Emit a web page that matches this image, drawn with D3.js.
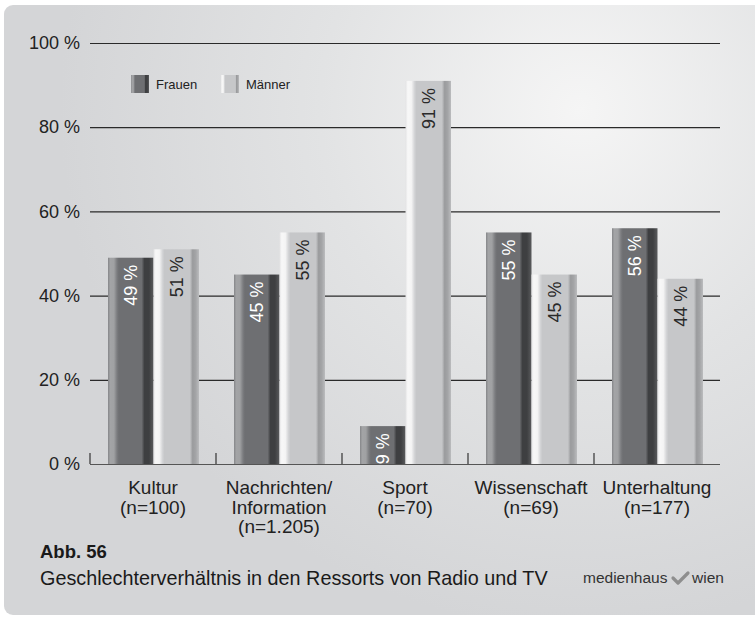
<!DOCTYPE html>
<html>
<head>
<meta charset="utf-8">
<script src="https://cdn.jsdelivr.net/npm/d3@7"></script>
<style>
  body { margin: 0; background: #fff; }
  svg { display: block; font-family: "Liberation Sans", Arial, sans-serif; }
</style>
</head>
<body>
<svg width="755" height="619"></svg>
<script>
// data
var categories = ["Kultur", "Nachrichten", "Sport", "Wissenschaft", "Unterhaltung"];
var catLabels = [
  ["Kultur", "(n=100)"],
  ["Nachrichten/", "Information", "(n=1.205)"],
  ["Sport", "(n=70)"],
  ["Wissenschaft", "(n=69)"],
  ["Unterhaltung", "(n=177)"]
];
var series = ["Frauen", "Männer"];
var frauen = [49, 45, 9, 55, 56];
var maenner = [51, 55, 91, 45, 44];
var yTicks = [0, 20, 40, 60, 80, 100];

var svg = d3.select("svg");
var defs = svg.append("defs");

var bg = defs.append("radialGradient")
    .attr("id", "bg")
    .attr("gradientUnits", "userSpaceOnUse")
    .attr("cx", 580).attr("cy", 110).attr("r", 520);
bg.append("stop").attr("offset", 0).attr("stop-color", "#f5f5f5");
bg.append("stop").attr("offset", 0.5).attr("stop-color", "#e2e3e4");
bg.append("stop").attr("offset", 1).attr("stop-color", "#d4d5d7");

function barGradient(id, stops) {
  var g = defs.append("linearGradient").attr("id", id)
      .attr("x1", 0).attr("x2", 1).attr("y1", 0).attr("y2", 0);
  stops.forEach(function(s) {
    g.append("stop").attr("offset", s[0]).attr("stop-color", s[1]);
  });
}
barGradient("gF", [[0, "#858689"], [0.05, "#a3a4a6"], [0.13, "#a0a1a3"], [0.2, "#7a7b7e"],
  [0.24, "#6e6f72"], [0.74, "#6e6f72"], [0.8, "#3e3f41"], [0.9, "#3e3f41"], [1, "#5a5b5d"]]);
barGradient("gM", [[0, "#e4e4e5"], [0.05, "#f8f8f8"], [0.13, "#f4f4f4"], [0.2, "#d2d3d5"],
  [0.24, "#c6c7c9"], [0.8, "#c6c7c9"], [0.86, "#9a9b9d"], [0.93, "#a4a5a7"], [1, "#bbbcbe"]]);
var fills = { "Frauen": "url(#gF)", "Männer": "url(#gM)" };

// panel
svg.append("rect")
    .attr("x", 4).attr("y", 5)
    .attr("width", 770).attr("height", 610)
    .attr("rx", 9)
    .attr("fill", "url(#bg)");

var x = d3.scaleBand().domain(categories).range([90, 720]);
var x1 = d3.scaleBand().domain(series).range([18, x.bandwidth() - 17]);
var y = d3.scaleLinear().domain([0, 100]).range([464, 43]);

// y axis with gridlines
var yAxis = svg.append("g")
    .attr("transform", "translate(90,0)")
    .call(d3.axisLeft(y)
      .tickValues(yTicks)
      .tickSize(-630)
      .tickPadding(10)
      .tickFormat(function(d) { return d + " %"; }));
yAxis.select(".domain").remove();
yAxis.selectAll(".tick line")
    .attr("stroke", function(d) { return d === 0 ? "#555" : "#2a2a2a"; })
    .attr("stroke-width", 1.2);
yAxis.selectAll(".tick text")
    .attr("fill", "#222")
    .style("font-size", "18px")
    .style("font-family", "'Liberation Sans', Arial, sans-serif");

// category separator ticks
svg.append("g").selectAll("line")
    .data(categories)
    .enter().append("line")
      .attr("x1", function(d) { return x(d); })
      .attr("x2", function(d) { return x(d); })
      .attr("y1", y(0) - 11)
      .attr("y2", y(0))
      .attr("stroke", "#333")
      .attr("stroke-width", 1.2);

// bars
var rows = categories.map(function(c, i) {
  return { cat: c, values: [{ s: "Frauen", v: frauen[i] }, { s: "Männer", v: maenner[i] }] };
});

var group = svg.append("g").selectAll("g")
    .data(rows)
    .enter().append("g")
      .attr("transform", function(d) { return "translate(" + x(d.cat) + ",0)"; });

group.selectAll("rect")
    .data(function(d) { return d.values; })
    .enter().append("rect")
      .attr("x", function(d) { return x1(d.s); })
      .attr("y", function(d) { return y(d.v); })
      .attr("width", x1.bandwidth())
      .attr("height", function(d) { return y(0) - y(d.v); })
      .attr("fill", function(d) { return fills[d.s]; });

group.selectAll("text")
    .data(function(d) { return d.values; })
    .enter().append("text")
      .attr("transform", function(d) {
        return "translate(" + (x1(d.s) + x1.bandwidth() / 2) + "," + (y(d.v) + 7) + ") rotate(-90)";
      })
      .attr("text-anchor", "end")
      .attr("dy", "0.36em")
      .attr("fill", function(d) { return d.s === "Frauen" ? "#fff" : "#2a2a2a"; })
      .style("font-size", "18px")
      .text(function(d) { return d.v + " %"; });

// category labels, one text per line
var lab = svg.append("g").selectAll("g")
    .data(categories)
    .enter().append("g")
      .attr("transform", function(d) { return "translate(" + (x(d) + x.bandwidth() / 2) + ",494)"; });
lab.selectAll("text")
    .data(function(d, i) { return catLabels[i]; })
    .enter().append("text")
      .attr("y", function(d, i) { return i * 19.5; })
      .attr("text-anchor", "middle")
      .attr("fill", "#222")
      .style("font-size", "19px")
      .text(function(d) { return d; });

// legend
var legend = svg.append("g").selectAll("g")
    .data(series)
    .enter().append("g")
      .attr("transform", function(d, i) { return "translate(" + (131 + i * 90) + ",75)"; });
legend.append("rect")
    .attr("width", 18).attr("height", 18)
    .attr("fill", function(d) { return fills[d]; });
legend.append("text")
    .attr("x", 25).attr("y", 14)
    .attr("fill", "#222")
    .style("font-size", "13px")
    .text(function(d) { return d; });

// footer
svg.append("text")
    .attr("x", 40).attr("y", 558)
    .attr("fill", "#1a1a1a")
    .style("font-size", "18.5px")
    .style("font-weight", "bold")
    .text("Abb. 56");
svg.append("text")
    .attr("x", 40).attr("y", 585)
    .attr("fill", "#1a1a1a")
    .style("font-size", "19.8px")
    .text("Geschlechterverhältnis in den Ressorts von Radio und TV");

var logo = svg.append("g").attr("transform", "translate(583,583)");
logo.append("text")
    .attr("fill", "#333")
    .style("font-size", "15.5px")
    .text("medienhaus");
logo.append("path")
    .attr("d", "M90,-5 L95,0 L105,-10")
    .attr("fill", "none")
    .attr("stroke", "#8e8e8e")
    .attr("stroke-width", 3.2)
    .attr("stroke-linecap", "round")
    .attr("stroke-linejoin", "round");
logo.append("text")
    .attr("x", 109)
    .attr("fill", "#333")
    .style("font-size", "15.5px")
    .text("wien");
</script>
</body>
</html>
